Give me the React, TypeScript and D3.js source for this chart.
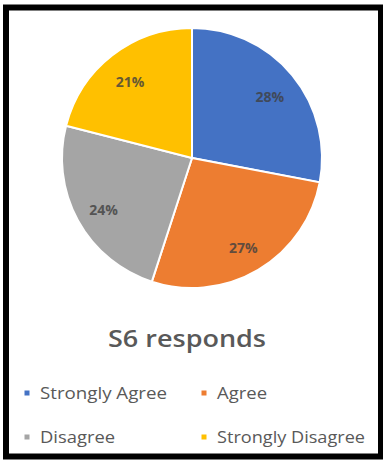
import React from "react";
import * as d3 from "d3";

const categories = ["Strongly Agree", "Agree", "Disagree", "Strongly Disagree"];
const values = [28, 27, 24, 21];
const colors = ["#4472C4", "#ED7D31", "#A5A5A5", "#FFC000"];
const title = "S6 responds";

export default function App() {
  const W = 383, H = 460;
  const cx = 192, cy = 158, R = 130;
  const pie = d3.pie<number>().sort(null).value((d) => d);
  const arcs = pie(values);
  const arc = d3.arc<d3.PieArcDatum<number>>().innerRadius(0).outerRadius(R);
  const total = d3.sum(values);
  const legendPos = [
    { x: 27, y: 393, w: 127 },
    { x: 204, y: 393, w: 50 },
    { x: 27, y: 437, w: 75 },
    { x: 204, y: 437, w: 148 },
  ];
  const font = "'Open Sans', 'Noto Sans', sans-serif";
  return (
    <svg width={W} height={H} style={{ position: "absolute", left: 0, top: 0, background: "#fff" }}>
      <rect x={6} y={7.5} width={375} height={449} fill="#fff" stroke="#000" strokeWidth={6} />
      <g transform={`translate(${cx},${cy})`}>
        {arcs.map((a, i) => (
          <path key={i} d={arc(a) || ""} fill={colors[i]} stroke="#fff" strokeWidth={2} />
        ))}
        {arcs.map((a, i) => {
          const mid = (a.startAngle + a.endAngle) / 2;
          const r = 101;
          const x = Math.sin(mid) * r;
          const y = -Math.cos(mid) * r + 3;
          return (
            <text key={i} x={x} y={y} textAnchor="middle" dominantBaseline="central"
              fontFamily={font} fontSize={14} fontWeight={700} fill="#404040" opacity={0.8}>
              {Math.round((values[i] / total) * 100)}%
            </text>
          );
        })}
      </g>
      <text x={187} y={347} textAnchor="middle" fontFamily={font} fontSize={24} fontWeight={600} fill="#595959"
        textLength={158} lengthAdjust="spacingAndGlyphs">
        {title}
      </text>
      {categories.map((c, i) => (
        <g key={c} transform={`translate(${legendPos[i].x},${legendPos[i].y})`}>
          <rect x={-2.5} y={-2.5} width={5} height={5} fill={colors[i]} />
          <text x={13} y={0} dominantBaseline="central" fontFamily={font} fontSize={16} fill="#595959"
            textLength={legendPos[i].w} lengthAdjust="spacingAndGlyphs">
            {c}
          </text>
        </g>
      ))}
    </svg>
  );
}
